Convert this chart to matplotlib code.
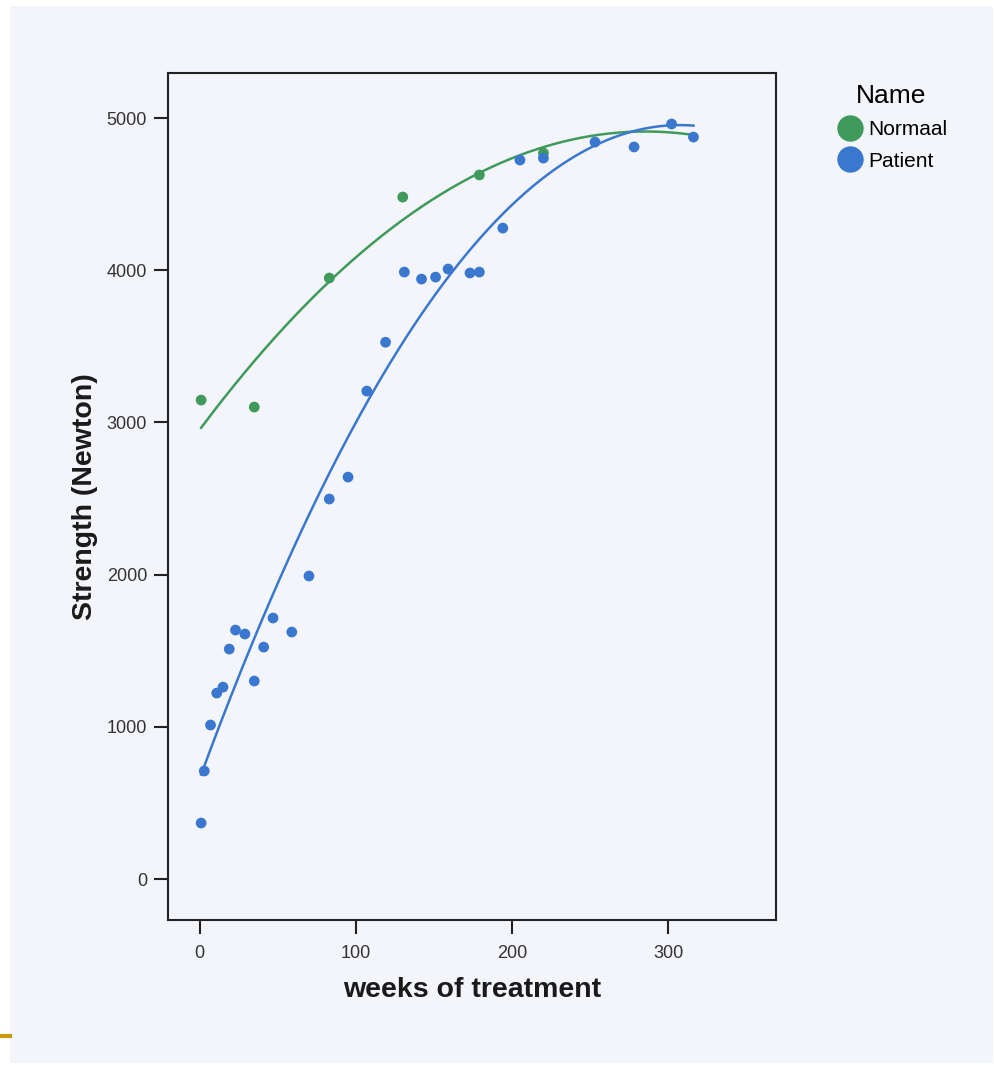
import matplotlib.pyplot as plt
from matplotlib.patches import Rectangle
from matplotlib.lines import Line2D
import numpy as np

plt.rcParams["font.family"] = ["Liberation Sans", "DejaVu Sans"]

# * data
normaal_weeks = [1, 35, 83, 130, 179, 220]
normaal_strength = [3147, 3101, 3949, 4481, 4626, 4770]

patient_weeks = [1, 3, 7, 11, 15, 19, 23, 29, 35, 41, 47, 59, 70, 83, 95,
                 107, 119, 131, 142, 151, 159, 173, 179, 194, 205, 220,
                 253, 278, 302, 316]
patient_strength = [368, 710, 1012, 1222, 1261, 1511, 1636, 1610, 1301, 1524,
                    1715, 1623, 1991, 2497, 2641, 3206, 3527, 3988, 3942,
                    3955, 4008, 3982, 3988, 4277, 4724, 4737, 4842, 4810,
                    4961, 4875]

groups = ["Normaal", "Patient"]
colors = ["#3f9a5b", "#3a78cf"]

fig = plt.figure(figsize=(9.95, 10.65), dpi=100)
fig.patch.set_facecolor("white")
# scanned page background
fig.patches.append(Rectangle((10 / 995, 2 / 1065), 983 / 995, 1057 / 1065,
                             transform=fig.transFigure, facecolor="#f3f5fa",
                             edgecolor="none", zorder=-10))
fig.lines.append(Line2D([0, 10 / 995], [1 - 1036 / 1065, 1 - 1036 / 1065],
                        transform=fig.transFigure, color="#c99a0a", lw=3))

ax = fig.add_axes([168 / 995, 1 - 920 / 1065, 608 / 995, 847 / 1065])
ax.set_facecolor("#f3f5fa")

x_all = np.array(normaal_weeks + patient_weeks)
xs = np.linspace(x_all.min(), x_all.max(), 200)
for wk, st, c in [(normaal_weeks, normaal_strength, colors[0]),
                  (patient_weeks, patient_strength, colors[1])]:
    ax.scatter(wk, st, s=60, color=c, edgecolors="none", zorder=3)
    # quadratic fit line per group
    coef = np.polyfit(wk, st, 2)
    ax.plot(xs, np.polyval(coef, xs), color=c, lw=1.8, zorder=2)

ax.set_xlim(-20.2, 368.8)
ax.set_ylim(-269, 5296)
ax.set_xticks([0, 100, 200, 300])
ax.set_yticks([0, 1000, 2000, 3000, 4000, 5000])
for s in ax.spines.values():
    s.set_linewidth(1.5)
    s.set_color("#222222")
ax.tick_params(direction="out", length=10, width=1.5, color="#222222",
               labelsize=13, labelcolor="#333333", pad=5)
ax.tick_params(axis="x", pad=8)
ax.set_xlabel("weeks of treatment", fontsize=20.5, fontweight="bold",
              color="#1a1a1a", labelpad=11)
ax.set_ylabel("Strength (Newton)", fontsize=20.5, fontweight="bold",
              color="#1a1a1a", labelpad=6)

handles = [Line2D([], [], marker="o", ls="none", markersize=19,
                  markerfacecolor=c, markeredgecolor="none") for c in colors]
leg = fig.legend(handles, groups, title="Name", loc="upper left",
                 bbox_to_anchor=(816 / 995, 1 - 65 / 1065), frameon=False,
                 fontsize=15, title_fontsize=19, handletextpad=0.1,
                 labelspacing=0.6, handlelength=1.5)

fig.savefig("out.png", dpi=100, facecolor="white")
